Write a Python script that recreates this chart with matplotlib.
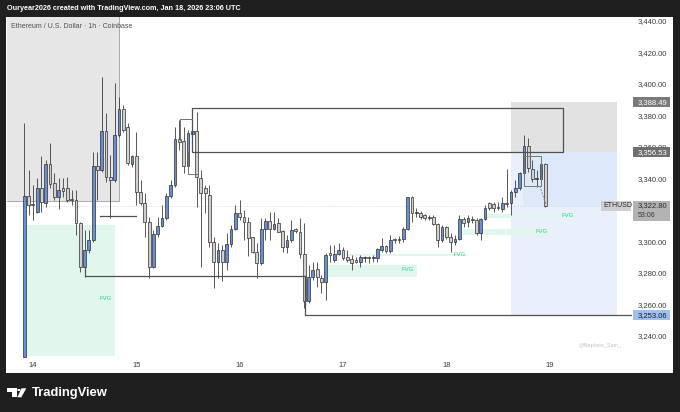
import matplotlib
matplotlib.use("Agg")
import matplotlib.pyplot as plt
from matplotlib.patches import Rectangle, Polygon, Circle
import numpy as np

plt.rcParams['font.family'] = ['Liberation Sans', 'DejaVu Sans']

# ---------------- data (ETH/USD, 1h candles, Coinbase) ----------------
first_hour = -2  # first candle: Jan 13 22:00 UTC (hours relative to Jan 14 00:00)

opens = [3226.7, 3328.7, 3323.0, 3318.6, 3333.8, 3324.3, 3349.0, 3337.0, 3328.1, 3333.8,
         3333.8, 3326.2, 3326.2, 3311.6, 3283.7, 3294.5, 3300.8, 3347.8, 3345.2, 3369.9,
         3340.8, 3338.9, 3367.4, 3383.9, 3372.5, 3349.0, 3354.1, 3331.3, 3324.3, 3312.3,
         3283.7, 3304.6, 3309.7, 3314.8, 3328.7, 3335.7, 3364.9, 3363.6, 3347.8, 3368.0,
         3369.9, 3340.1, 3333.8, 3329.5, 3299.6, 3286.9, 3294.5, 3286.9, 3298.3, 3307.8,
         3317.9, 3315.4, 3312.3, 3302.7, 3293.2, 3286.3, 3307.8, 3312.9, 3307.8, 3311.6,
         3306.5, 3296.4, 3300.8, 3307.8, 3305.9, 3292.0, 3262.2, 3277.4, 3282.5, 3276.7,
         3274.2, 3292.6, 3288.2, 3292.0, 3294.5, 3290.1, 3288.8, 3288.2, 3286.9, 3289.4,
         3289.4, 3289.4, 3289.4, 3294.5, 3297.0, 3293.9, 3300.8, 3300.8, 3301.5, 3307.8,
         3328.1, 3317.9, 3318.0, 3316.7, 3314.8, 3315.4, 3311.0, 3300.8, 3309.1, 3302.7,
         3299.6, 3301.5, 3314.2, 3312.3, 3314.2, 3313.5, 3305.3, 3314.2, 3324.3, 3323.7,
         3321.1, 3320.5, 3324.3, 3324.3, 3331.3, 3333.8, 3343.3, 3360.4, 3345.9, 3339.5,
         3339.5, 3349.0]
highs = [3375.0, 3345.2, 3335.7, 3340.1, 3354.1, 3351.6, 3362.3, 3343.3, 3340.1, 3340.1,
         3340.8, 3332.5, 3332.5, 3312.5, 3307.2, 3307.2, 3356.6, 3356.6, 3404.2, 3381.4,
         3354.7, 3400.4, 3391.5, 3386.4, 3375.0, 3354.7, 3369.3, 3338.9, 3330.6, 3315.4,
         3307.2, 3315.4, 3323.0, 3330.6, 3338.9, 3372.5, 3376.9, 3372.5, 3370.6, 3373.7,
         3382.0, 3345.2, 3335.7, 3335.7, 3302.7, 3298.9, 3297.7, 3305.3, 3310.3, 3323.0,
         3326.2, 3319.9, 3315.4, 3302.7, 3298.9, 3314.8, 3314.8, 3318.6, 3318.6, 3314.8,
         3307.2, 3304.0, 3313.5, 3308.4, 3314.8, 3311.6, 3285.0, 3286.9, 3286.9, 3278.6,
         3292.6, 3297.7, 3297.7, 3298.9, 3296.4, 3294.5, 3291.3, 3290.1, 3291.3, 3290.7,
         3290.7, 3291.3, 3295.8, 3302.1, 3297.7, 3304.0, 3302.1, 3303.4, 3309.1, 3328.1,
         3328.7, 3321.1, 3319.2, 3317.3, 3316.7, 3316.7, 3311.6, 3310.3, 3309.7, 3305.3,
         3304.0, 3316.7, 3315.4, 3316.7, 3316.1, 3314.8, 3314.8, 3323.0, 3324.9, 3324.9,
         3324.9, 3328.1, 3345.9, 3332.5, 3338.9, 3344.0, 3367.4, 3365.5, 3351.6, 3345.2,
         3349.7, 3349.7]
lows = [3226.0, 3316.7, 3313.5, 3318.0, 3318.6, 3322.0, 3333.8, 3326.2, 3320.5, 3328.1,
        3324.9, 3323.0, 3304.0, 3280.6, 3277.4, 3292.6, 3299.6, 3326.2, 3344.0, 3337.6,
        3314.8, 3337.6, 3366.1, 3369.3, 3348.4, 3347.1, 3323.0, 3323.0, 3302.7, 3276.7,
        3283.1, 3302.7, 3309.1, 3313.5, 3327.5, 3334.4, 3357.9, 3343.3, 3346.5, 3366.8,
        3321.8, 3283.7, 3318.0, 3296.4, 3270.4, 3276.7, 3274.8, 3281.8, 3296.4, 3307.2,
        3313.5, 3300.8, 3290.7, 3292.6, 3276.7, 3285.0, 3300.8, 3300.8, 3307.2, 3305.9,
        3293.2, 3292.6, 3299.6, 3305.3, 3289.4, 3257.7, 3260.9, 3275.5, 3271.0, 3267.2,
        3262.8, 3286.9, 3286.9, 3291.3, 3288.2, 3286.9, 3281.8, 3286.3, 3283.7, 3286.9,
        3286.3, 3286.9, 3286.9, 3293.2, 3292.6, 3292.6, 3298.9, 3298.9, 3299.6, 3307.2,
        3312.3, 3315.4, 3314.2, 3313.5, 3313.5, 3310.3, 3296.4, 3299.6, 3301.5, 3293.2,
        3297.7, 3300.8, 3309.1, 3309.1, 3311.6, 3304.0, 3300.8, 3313.5, 3319.9, 3318.6,
        3319.9, 3318.6, 3321.8, 3316.7, 3328.1, 3332.5, 3342.0, 3344.0, 3337.6, 3334.4,
        3337.6, 3321.8]
closes = [3328.7, 3323.0, 3322.4, 3333.8, 3324.9, 3349.0, 3336.3, 3328.1, 3332.5, 3331.9,
          3326.2, 3325.6, 3311.6, 3283.7, 3294.5, 3300.8, 3347.8, 3345.2, 3369.9, 3340.8,
          3338.9, 3367.4, 3383.9, 3370.6, 3349.7, 3354.1, 3331.3, 3324.3, 3312.3, 3283.7,
          3304.6, 3309.7, 3314.8, 3328.7, 3335.7, 3364.9, 3363.0, 3347.8, 3368.7, 3369.9,
          3340.8, 3330.6, 3330.6, 3299.6, 3286.9, 3294.5, 3286.9, 3298.3, 3307.8, 3317.9,
          3315.4, 3312.3, 3302.1, 3293.2, 3286.3, 3307.8, 3312.9, 3307.8, 3311.0, 3305.9,
          3296.4, 3300.8, 3307.2, 3306.5, 3292.0, 3262.2, 3277.4, 3281.8, 3277.4, 3274.2,
          3291.3, 3291.3, 3292.0, 3294.5, 3289.4, 3288.2, 3286.3, 3286.9, 3290.1, 3289.4,
          3288.8, 3289.4, 3295.1, 3297.0, 3293.9, 3300.8, 3300.6, 3301.5, 3307.8, 3328.1,
          3317.9, 3318.0, 3315.4, 3314.8, 3314.6, 3311.0, 3300.8, 3309.1, 3302.7, 3299.6,
          3301.5, 3314.2, 3311.6, 3314.8, 3313.5, 3305.3, 3314.2, 3321.1, 3321.1, 3321.1,
          3321.0, 3324.3, 3323.7, 3331.3, 3333.8, 3343.3, 3360.4, 3346.5, 3339.5, 3339.5,
          3349.0, 3322.8]

day_ticks = [0, 24, 48, 72, 96, 120]
day_labels = ['14', '15', '16', '17', '18', '19']
# 3,320.00 is hidden behind the live-price tag in the original
price_ticks = [3240, 3260, 3280, 3300, 3340, 3360, 3380, 3400, 3420, 3440]

# key levels of the drawings
level_zone_top = 3388.49
level_box_top = 3385.0
level_mid = 3356.53
last_price = 3322.80
level_low = 3253.06
swing_low = 3278.0
minor_low = 3316.0
left_zone_bottom = 3325.6
countdown = '53:06'

# FVG zones: (start hour, end hour, low, high, label hour, label price)
fvg_starts = [-1.9, 68.5, 69.0, 99.8, 105.4]
fvg_ends = [19.0, 89.1, 100.7, 120.0, 125.8]
fvg_lows = [3227.3, 3277.4, 3290.7, 3304.0, 3314.8]
fvg_highs = [3310.3, 3285.0, 3292.2, 3307.8, 3317.3]
fvg_label_t = [16.9, 87.0, 99.1, 118.2, 124.2]
fvg_label_p = [3264.0, 3281.9, 3291.4, 3306.0, 3316.2]

# ---------------- figure ----------------
W, H = 680, 412
fig = plt.figure(figsize=(W / 100, H / 100), dpi=100, facecolor='#1f1f1f')


def fx(px):
    return px / W


def fy(py):
    return 1 - py / H


fig.patches.append(Rectangle((fx(6), fy(373)), (673 - 6) / W, (373 - 17) / H,
                             transform=fig.transFigure, facecolor='white',
                             edgecolor='none', zorder=-1))

ax = fig.add_axes([fx(7), fy(358), (632 - 7) / W, (358 - 17) / H])
ax.set_facecolor('none')
for s in ax.spines.values():
    s.set_visible(False)
ax.set_xlim(-6.0, 139.1)
ax.set_ylim(3226.0, 3442.5)

t = np.arange(len(opens)) + first_hour
o = np.array(opens); h = np.array(highs); l = np.array(lows); c = np.array(closes)
up = c >= o

# zones
ax.add_patch(Rectangle((-7, left_zone_bottom), 27.0, 200, facecolor='#e6e6e6',
                       edgecolor='#a9a9a9', lw=0.7, zorder=1))
for s0, s1, lo, hi in zip(fvg_starts, fvg_ends, fvg_lows, fvg_highs):
    ax.add_patch(Rectangle((s0, lo), s1 - s0, hi - lo, facecolor='#e1f7ee',
                           edgecolor='none', zorder=0.6))
for lt, lp in zip(fvg_label_t, fvg_label_p):
    ax.text(lt, lp, 'FVG', color='#2ccf8a', fontsize=4.3, ha='center', va='center', zorder=2)

ax.add_patch(Rectangle((111.1, level_mid), 24.6, level_zone_top - level_mid,
                       facecolor='#e2e2e2', edgecolor='none', zorder=0.5))
ax.add_patch(Rectangle((111.1, level_low), 24.6, level_mid - level_low,
                       facecolor='#e9f0fc', edgecolor='none', zorder=0.5))
ax.add_patch(Rectangle((113.8, last_price), 21.9, level_mid - last_price,
                       facecolor='#dde8fb', edgecolor='none', zorder=0.55))

# current price dotted line
ax.axhline(last_price, color='#c4c4c4', lw=0.5, ls=(0, (1, 2)), zorder=0.7)

# drawn lines
lc = '#505050'
ax.add_patch(Rectangle((36.9, level_mid), 123.0 - 36.9, level_box_top - level_mid,
                       fill=False, edgecolor=lc, lw=0.9, zorder=4))
ax.plot([12.07, 12.07, 63.1], [3283.7, swing_low, swing_low], color=lc, lw=0.9, zorder=4)
ax.plot([63.1, 63.1, 139.1], [swing_low, level_low, level_low], color=lc, lw=0.9, zorder=4)
ax.plot([15.5, 23.9], [minor_low, minor_low], color=lc, lw=0.9, zorder=4)
ax.plot([34.1, 34.1, 36.9], [3364.4, 3377.6, 3377.6], color='#707070', lw=0.7, zorder=4)
ax.plot([36.05, 36.05, 38.0], [level_mid, 3342.9, 3342.9], color='#707070', lw=0.7, zorder=4)
ax.add_patch(Rectangle((114.0, 3335.3), 3.9, 19.0, fill=False, edgecolor='#777777',
                       lw=0.7, zorder=4))
ax.plot([117.7, 119.1], [3335.3, 3323.5], color='#8a8a8a', lw=0.7, ls=(0, (2, 1.5)), zorder=4)

# candles
ax.vlines(t, l, h, color='#3d3d3d', lw=0.6, zorder=2.5)
body_h = np.where(np.abs(c - o) < 0.6, 0.6, c - o)
ax.bar(t, body_h, bottom=o, width=0.64, color=np.where(up, '#6690d6', '#d0d0d0'),
       edgecolor='#2f2f2f', linewidth=0.5, zorder=3)

# axes ticks
ax.yaxis.tick_right()
ax.set_yticks(price_ticks)
ax.set_yticklabels([f'{v:,.2f}' for v in price_ticks])
ax.tick_params(axis='y', length=0, pad=3.8, labelsize=5.5, labelcolor='#3a3a3a')
ax.set_xticks(day_ticks)
ax.set_xticklabels(day_labels)
ax.tick_params(axis='x', length=0, pad=3.0, labelsize=5.5, labelcolor='#3a3a3a')


def price_fy(p):
    return fig.transFigure.inverted().transform(ax.transData.transform((0, p)))[1]


def tag(p, text, fc, tc, x0=633, x1=670, up_px=5.0, down_px=5.0, tx=637.5, fs=5.5):
    yc = price_fy(p)
    fig.patches.append(Rectangle((fx(x0), yc - down_px / H), (x1 - x0) / W, (up_px + down_px) / H,
                                 transform=fig.transFigure, facecolor=fc,
                                 edgecolor='none', zorder=5))
    fig.text(fx(tx), yc, text, ha='left', va='center', color=tc,
             fontsize=fs, zorder=6)


tag(level_zone_top, f'{level_zone_top:,.2f}', '#7a7a7a', 'white')
tag(level_mid, f'{level_mid:,.2f}', '#6f6f6f', 'white')
tag(last_price, f'{last_price:,.2f}', '#b3b3b3', '#2a2a2a', up_px=4.5, down_px=15.5)
fig.text(fx(637.5), price_fy(last_price) - 10.0 / H, countdown, ha='left', va='center',
         color='#3a3a3a', fontsize=5.0, zorder=6)
tag(last_price, 'ETHUSD', '#cfcfcf', '#2a2a2a', x0=601, x1=631, up_px=4.5, down_px=5.5,
    tx=603.0, fs=5.0)
tag(level_low, f'{level_low:,.2f}', '#9fc0f3', '#1a1a1a')

fig.text(fx(600), fy(345), '@Nephew_Sam_', color='#c6c6c6', fontsize=4.0,
         ha='center', va='center', zorder=6)

# header
fig.text(fx(7), fy(8.6), 'Ouryear2026 created with TradingView.com, Jan 18, 2026 23:06 UTC',
         color='white', fontsize=5.2, fontweight='bold', va='center')
fig.text(fx(11), fy(26), 'Ethereum / U.S. Dollar · 1h · Coinbase', color='#505050',
         fontsize=5.0, va='center', zorder=6)


# footer logo
def fig_poly(pts, **kw):
    fig.patches.append(Polygon([(fx(a), fy(b)) for a, b in pts], closed=True,
                               transform=fig.transFigure, **kw))


fig_poly([(7.3, 388.3), (16.7, 388.3), (16.7, 397.3), (12.0, 397.3), (12.0, 391.7), (7.3, 391.7)],
         facecolor='white', edgecolor='none', zorder=6)
fig.patches.append(Circle((fx(18.9), fy(390.0)), 1.7 / W, transform=fig.transFigure,
                          facecolor='white', edgecolor='none', zorder=6))
fig_poly([(21.5, 388.3), (26.3, 388.3), (21.3, 397.3), (17.3, 397.3)],
         facecolor='white', edgecolor='none', zorder=6)
fig.text(fx(31.5), fy(393.2), 'TradingView', color='white', fontsize=9.4,
         fontweight='bold', va='center', ha='left')

fig.savefig('out.png', dpi=100, facecolor=fig.get_facecolor())
